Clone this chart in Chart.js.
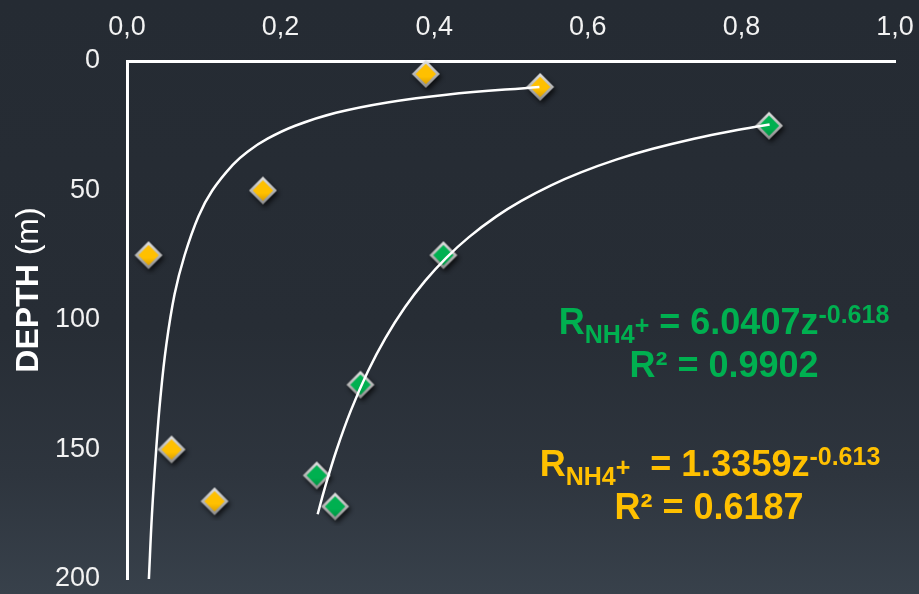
<!DOCTYPE html>
<html>
<head>
<meta charset="utf-8">
<script src="https://cdn.jsdelivr.net/npm/chart.js@4.4.0/dist/chart.umd.min.js"></script>
<style>
  html, body {
    margin: 0; padding: 0; width: 919px; height: 594px; overflow: hidden;
    background: linear-gradient(to bottom, #252b33 0%, #272d35 55%, #2e353e 80%, #38414b 100%);
  }
  canvas { display: block; }
</style>
</head>
<body>
<canvas id="chart" width="919" height="594"></canvas>
<script>
// NH4+ rate profiles against depth (m)
const shallowRate  = [0.389, 0.538, 0.177, 0.028, 0.058, 0.114];
const shallowDepth = [5, 10, 50, 75, 150, 170];

const deepRate  = [0.836, 0.412, 0.304, 0.247, 0.271];
const deepDepth = [25, 75, 125, 160, 172];

// traced curve for the shallow profile
const shallowCurveDepth = [10, 13, 16, 20, 25, 30, 35, 40, 50, 60, 75, 90, 110, 130, 150, 175, 200];
const shallowCurveRate  = [0.537, 0.416, 0.339, 0.272, 0.219, 0.183, 0.157, 0.138, 0.111, 0.093,
                           0.075, 0.062, 0.051, 0.0435, 0.038, 0.0325, 0.0285];

// power fits R = a * z^b
const deepFitCoef = 6.0407, deepFitExp = -0.618, deepFitR2 = 0.9902;
const shallowFitCoef = 1.3359, shallowFitExp = -0.613, shallowFitR2 = 0.6187;
const deepCurveDepth = [24.5, 27, 30, 34, 38, 43, 48, 54, 60, 68, 76, 85, 95, 107, 120, 135, 150, 165, 175];

const xTickValues = [0, 0.2, 0.4, 0.6, 0.8, 1.0];
const yTickValues = [0, 50, 100, 150, 200];

const YELLOW = '#FFC000';
const GREEN = '#00B050';
const FONT = "'Liberation Sans', Arial, sans-serif";

function makeMarker(face, shade) {
  const c = document.createElement('canvas');
  c.width = 40; c.height = 40;
  const g = c.getContext('2d');
  const cx = 20, cy = 20, r = 14;
  const diamond = (rr) => {
    g.beginPath();
    g.moveTo(cx, cy - rr); g.lineTo(cx + rr, cy);
    g.lineTo(cx, cy + rr); g.lineTo(cx - rr, cy);
    g.closePath();
  };
  g.save();
  g.shadowColor = 'rgba(0,0,0,0.7)';
  g.shadowBlur = 5; g.shadowOffsetX = 2; g.shadowOffsetY = 3;
  diamond(r);
  const rim = g.createLinearGradient(0, cy - r, 0, cy + r);
  rim.addColorStop(0, '#e2e2e2'); rim.addColorStop(1, '#8a8a8a');
  g.fillStyle = rim; g.fill();
  g.restore();
  diamond(r - 3.8);
  const body = g.createLinearGradient(0, cy - r, 0, cy + r);
  body.addColorStop(0, face); body.addColorStop(0.6, face); body.addColorStop(1, shade);
  g.fillStyle = body; g.fill();
  return c;
}

const toPoints = (xs, ys) => xs.map((x, i) => ({ x: x, y: ys[i] }));
const deepCurve = deepCurveDepth.map(z => ({ x: deepFitCoef * Math.pow(z, deepFitExp), y: z }));

function fmt(v, d) { return v.toFixed(d); }

// equation blocks: segments of [text, small?, baseline shift]
const equations = [
  { color: GREEN, cx: 724, baseline: 334, segs: [
      ['R', false, 0], ['NH4', true, 9], ['+', true, 0],
      [' = ' + fmt(deepFitCoef, 4) + 'z', false, 0], [fmt(deepFitExp, 3), true, -11]] },
  { color: GREEN, cx: 724, baseline: 377, segs: [['R\u00B2 = ' + fmt(deepFitR2, 4), false, 0]] },
  { color: YELLOW, cx: 710, baseline: 476, segs: [
      ['R', false, 0], ['NH4', true, 9], ['+', true, 0],
      ['  = ' + fmt(shallowFitCoef, 4) + 'z', false, 0], [fmt(shallowFitExp, 3), true, -11]] },
  { color: YELLOW, cx: 709, baseline: 519, segs: [['R\u00B2 = ' + fmt(shallowFitR2, 4), false, 0]] }
];

const annotations = {
  id: 'annotations',
  afterDraw(chart) {
    const ctx = chart.ctx;
    ctx.save();
    ctx.textAlign = 'left';
    ctx.textBaseline = 'alphabetic';
    const font = (small) => 'bold ' + (small ? 25 : 36) + 'px ' + FONT;
    equations.forEach(eq => {
      let total = 0;
      eq.segs.forEach(s => { ctx.font = font(s[1]); total += ctx.measureText(s[0]).width; });
      let x = eq.cx - total / 2;
      ctx.fillStyle = eq.color;
      eq.segs.forEach(s => {
        ctx.font = font(s[1]);
        ctx.fillText(s[0], x, eq.baseline + s[2]);
        x += ctx.measureText(s[0]).width;
      });
    });
    // vertical axis title
    ctx.translate(29, 290);
    ctx.rotate(-Math.PI / 2);
    ctx.fillStyle = '#ffffff';
    ctx.textBaseline = 'middle';
    const boldF = 'bold 32px ' + FONT, normF = '32px ' + FONT;
    ctx.font = boldF; const w1 = ctx.measureText('DEPTH').width;
    ctx.font = normF; const w2 = ctx.measureText(' (m)').width;
    let x0 = -(w1 + w2) / 2;
    ctx.font = boldF; ctx.fillText('DEPTH', x0, 0);
    ctx.font = normF; ctx.fillText(' (m)', x0 + w1, 0);
    ctx.restore();
  }
};

new Chart(document.getElementById('chart'), {
  type: 'scatter',
  data: {
    datasets: [
      { data: deepCurve, showLine: true, borderColor: '#ffffff', borderWidth: 2.5,
        pointRadius: 0, tension: 0.4, order: 0 },
      { data: toPoints(shallowCurveRate, shallowCurveDepth), showLine: true, borderColor: '#ffffff',
        borderWidth: 2.5, pointRadius: 0, tension: 0.4, order: 0 },
      { data: toPoints(deepRate, deepDepth), pointStyle: makeMarker(GREEN, '#00853c'),
        pointRadius: 14, clip: false, order: 1 },
      { data: toPoints(shallowRate, shallowDepth), pointStyle: makeMarker(YELLOW, '#c98e00'),
        pointRadius: 14, clip: false, order: 1 }
    ]
  },
  options: {
    responsive: false,
    animation: false,
    devicePixelRatio: 1,
    layout: { padding: { left: 0, top: 0, right: 24, bottom: 15 } },
    plugins: { legend: { display: false }, tooltip: { enabled: false } },
    scales: {
      x: {
        type: 'linear', position: 'top', min: 0, max: 1,
        grid: { display: false, drawTicks: false },
        border: { display: true, color: '#ffffff', width: 3 },
        afterBuildTicks: s => { s.ticks = xTickValues.map(v => ({ value: v })); },
        afterFit: s => { s.height = 61; s.paddingLeft = 0; s.paddingRight = 0; },
        ticks: {
          color: '#f2f2f2', font: { family: FONT, size: 27, lineHeight: 1 }, padding: 20,
          maxRotation: 0, autoSkip: false,
          callback: v => v.toFixed(1).replace('.', ',')
        }
      },
      y: {
        type: 'linear', reverse: true, min: 0, max: 200,
        grid: { display: false, drawTicks: false },
        border: { display: true, color: '#ffffff', width: 3 },
        afterBuildTicks: s => { s.ticks = yTickValues.map(v => ({ value: v })); },
        afterFit: s => { s.width = 127; s.paddingTop = 0; s.paddingBottom = 0; },
        ticks: {
          color: '#f2f2f2', font: { family: FONT, size: 27, lineHeight: 1 }, padding: 27,
          autoSkip: false, callback: v => String(v)
        }
      }
    }
  },
  plugins: [annotations]
});
</script>
</body>
</html>
